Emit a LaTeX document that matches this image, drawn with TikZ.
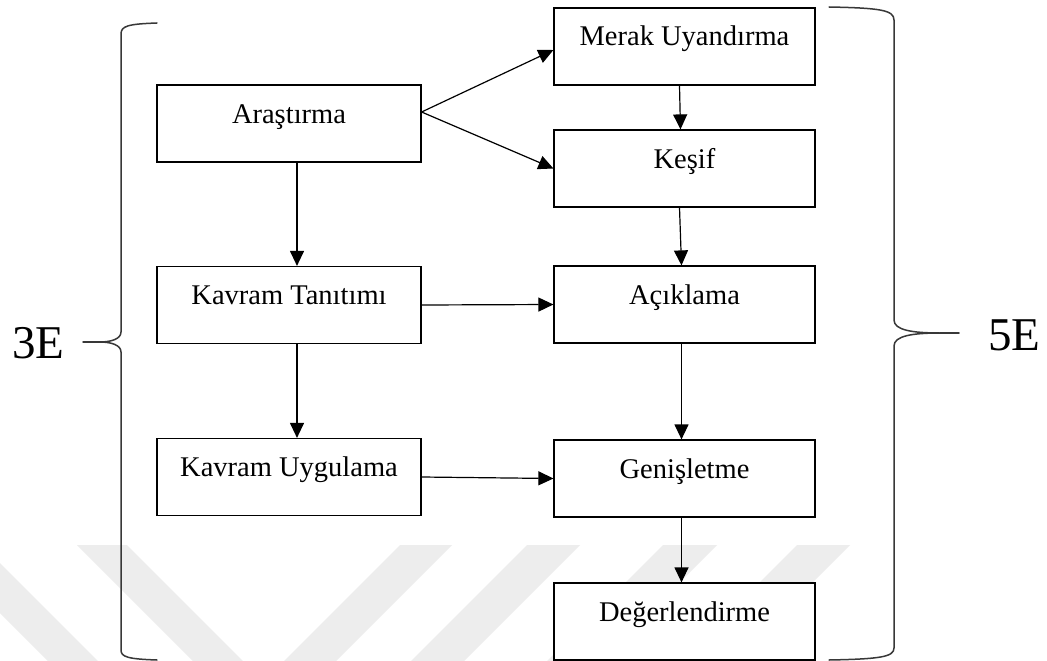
\documentclass[tikz,border=0pt]{standalone}
\usepackage{fontspec}
\setmainfont{Liberation Serif}
\usetikzlibrary{arrows.meta,calc}
\begin{document}
\begin{tikzpicture}[x=1pt,y=-1pt,
  box/.style={draw=black, line width=1.2pt, fill=white, inner sep=0pt,
    text height=38pt, text depth=39pt, font=\fontsize{28.5}{30}\selectfont},
  lbox/.style={box, minimum width=264pt},
  rbox/.style={box, minimum width=261pt},
  conn/.style={line width=1.2pt, -{Triangle[length=15pt,width=14pt]}},
  brace/.style={line width=1.5pt, draw=black!78, line join=round, line cap=round},
  wm/.style={fill=black!7, draw=none},
  biglabel/.style={anchor=base west, inner sep=0pt, font=\fontsize{47}{50}\selectfont}
]
\useasboundingbox[fill=white] (0,0) rectangle (1047,661);

% watermark bands
\fill[wm] (0,563) -- (98,661) -- (48,661) -- (0,613) -- cycle;
\fill[wm] (77,545) -- (127,545) -- (243,661) -- (193,661) -- cycle;
\fill[wm] (400,545) -- (452,545) -- (336,661) -- (284,661) -- cycle;
\fill[wm] (527,545) -- (580,545) -- (464,661) -- (411,661) -- cycle;
\fill[wm] (663,545) -- (717,545) -- (601,661) -- (547,661) -- cycle;
\fill[wm] (797,545) -- (850,545) -- (734,661) -- (681,661) -- cycle;

% boxes
\node[lbox] (ar) at (289,123.5) {Araştırma};
\node[lbox] (kt) at (289,305) {Kavram Tanıtımı};
\node[lbox] (ku) at (289,477) {Kavram Uygulama};
\node[rbox] (me) at (684.5,46.5) {Merak Uyandırma};
\node[rbox] (ke) at (684.5,168.5) {Keşif};
\node[rbox] (ac) at (684.5,304.5) {Açıklama};
\node[rbox] (ge) at (684.5,478.5) {Genişletme};
\node[rbox] (de) at (684.5,621.5) {Değerlendirme};

% connectors
\draw[conn] ([yshift=11.5pt]ar.east) -- ([yshift=-3.5pt]me.west);
\draw[conn] ([yshift=11.5pt]ar.east) -- (ke.west);
\draw[conn] ([xshift=-5pt]me.south) -- ([xshift=-4pt]ke.north);
\draw[conn] ([xshift=-5pt]ke.south) -- ([xshift=-3pt]ac.north);
\draw[conn] ([xshift=-3pt]ac.south) -- ([xshift=-3pt]ge.north);
\draw[conn] ([xshift=-3pt]ge.south) -- ([xshift=-3pt]de.north);
\draw[conn] ([xshift=8pt]ar.south) -- ([xshift=8pt]kt.north);
\draw[conn] ([xshift=8pt]kt.south) -- ([xshift=8pt]ku.north);
\draw[conn] (kt.east) -- (ac.west);
\draw[conn] (ku.east) -- (ge.west);

% labels
\node[biglabel] (t3) at (12,358) {3E};
\node[biglabel] (t5) at (988,350) {5E};

% braces
\coordinate (lt) at (100,342);
\coordinate (rt) at (940,333);
\draw[brace] (157,23) .. controls (128,24) and (121,26) .. (121,34) -- (121,332)
  .. controls (121,339) and (111,342) .. (lt)
  .. controls (111,342) and (121,345) .. (121,352) -- (121,650)
  .. controls (121,657) and (128,659) .. (157,660);
\draw[brace] (83,342) -- (lt);
\draw[brace] (829,7) .. controls (880,8) and (894,10) .. (894,20) -- (894,320)
  .. controls (894,330) and (912,333) .. (rt)
  .. controls (912,333) and (894,336) .. (894,346) -- (894,648)
  .. controls (894,657) and (880,659) .. (829,660);
\draw[brace] (rt) -- (959,333);
\end{tikzpicture}
\end{document}
